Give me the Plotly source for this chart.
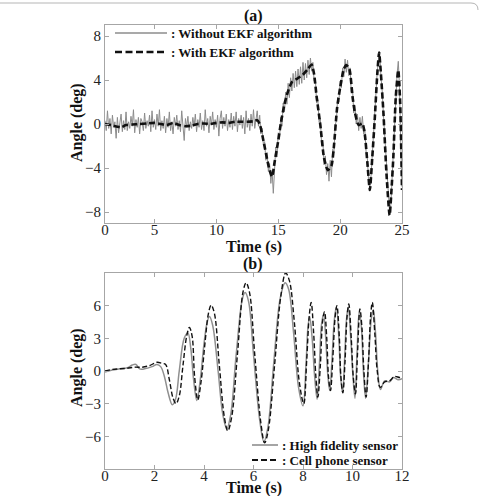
import plotly.graph_objects as go

# ---------------- Panel (a) data ----------------
raw_t0 = 1.0
raw_dt = 0.1
raw_angle = [
    0.3, -0.6, 1.2, -0.4, 0.5, -0.9, 0.8, -0.3, 0.2, -1.3,
    0.6, -0.8, 0.1, 0.9, -0.7, 0.3, -0.5, 1.1, -0.6, 0.2,
    -0.4, 0.7, -0.2, 1.3, -0.8, 0.4, -0.3, 0.6, -0.9, 0.5,
    0.2, -0.6, 1.0, -0.4, 0.3, -0.2, 0.8, -0.7, 1.2, -0.3,
    0.4, -0.5, 0.9, -0.2, 1.3, -0.6, 0.3, -0.4, 0.7, -0.8,
    0.5, -0.3, 1.1, -0.6, 0.2, -0.9, 0.6, -0.2, 0.8, -0.5,
    0.3, -0.7, 1.2, -0.4, -1.5, 0.5, -0.3, 0.7, -0.6, 0.2,
    -0.4, 0.6, -0.2, 0.9, -0.7, 0.4, -0.3, 1.0, -0.5, 0.3,
    -0.6, 1.3, -0.2, 0.5, -0.8, 0.7, -0.1, 1.1, -0.5, 0.4,
    -0.3, 0.8, -1.1, 0.5, 1.2, -0.4, 0.6, -0.2, 0.9, -0.6,
    0.4, -0.3, 1.0, -0.5, 0.7, -0.2, 1.1, -0.7, 0.5, -0.1,
    0.8, -0.4, 0.6, -0.9, 1.2, -0.3, 0.5, -0.6, 0.9, -0.2,
    1.3, -0.4, 0.7, 1.2, -0.2,
    0.8, -0.9, -0.4, -1.9, -1.6, -3.3, -2.6, -4.3, -3.6, -5.4,
    -4.2, -6.3, -4.5, -2.1, -3.0, -0.8, -1.4, 0.6, -0.2, 1.9,
    1.1, 2.9, 1.8, 3.7, 2.4, 4.2, 3.0, 4.6, 3.3, 4.8,
    3.4, 5.0, 3.6, 5.2, 3.7, 5.6, 4.0, 5.5, 4.2, 5.8,
    4.5, 6.0, 4.8, 5.6, 3.9, 4.1, 1.9, 2.2, 0.2, 0.5,
    -1.7, -1.5, -3.7, -2.9, -4.6, -3.6, -5.2, -3.3, -4.8, -2.3,
    -2.6, -0.1, 0.3, 2.4, 2.0, 3.9, 3.3, 5.1, 4.3, 5.9,
    4.7, 5.8, 4.4, 5.1, 2.9, 3.3, 1.0, 1.7, 0.0, 0.9,
    -0.6, 0.6, -0.4, 0.7, -0.9, -0.5, -2.6, -3.1, -5.2, -5.8,
    -4.7, -2.7, -1.5, 0.8, 2.2, 4.8, 5.8, 6.5, 4.3, 3.0,
    0.8, -1.0, -3.7, -5.3, -7.2, -8.1, -7.3, -4.8, -3.2, 0.0,
    2.3, 4.5, 5.7, 3.3, -1.8, -5.7,
]
raw_time = [round(raw_t0 + raw_dt * i, 2) for i in range(len(raw_angle))]

ekf_time = [1.0, 1.5, 2.0, 2.3, 2.7, 3.2, 3.8, 4.4, 5.0, 5.5, 6.0, 6.5, 7.0, 7.5,
            8.0, 8.5, 9.0, 9.5, 10.0, 10.5, 11.0, 11.5, 12.0, 12.5, 13.0, 13.3,
            13.5, 13.8, 14.1, 14.3, 14.5, 14.7, 15.0, 15.2, 15.5, 15.8, 16.1,
            16.5, 17.0, 17.4, 17.7, 17.9, 18.1, 18.4, 18.7, 19.0, 19.3, 19.5,
            19.75, 20.0, 20.3, 20.5, 20.75, 21.0, 21.2, 21.5, 21.8, 22.0, 22.2,
            22.4, 22.6, 22.8, 23.0, 23.15, 23.3, 23.5, 23.75, 24.0, 24.15, 24.3,
            24.5, 24.7, 24.85, 25.0]
ekf_angle = [0.0, -0.1, -0.25, -0.3, -0.1, -0.05, 0.0, 0.05, 0.1, 0.0, -0.1, 0.1,
             -0.1, -0.2, -0.15, 0.0, 0.05, 0.0, 0.1, 0.15, 0.1, 0.2, 0.2, 0.2,
             0.25, 0.35, 0.0, -1.5, -3.2, -4.2, -4.8, -3.5, -1.5, 0.0, 1.8, 3.0,
             3.8, 4.1, 4.5, 5.0, 5.4, 4.5, 2.5, -0.1, -3.1, -4.2, -3.8, -2.0, 1.4,
             3.3, 5.0, 5.35, 5.0, 2.5, 1.0, -0.1, 0.05, -1.0, -3.5, -6.0, -3.0,
             0.5, 4.5, 6.5, 4.5, 1.0, -4.6, -8.3, -6.0, -3.0, 2.5, 4.9, 2.0, -6.0]

a_xtick_vals = [1, 5, 10, 15, 20, 25]
a_xtick_text = ["0", "5", "10", "15", "20", "25"]
a_ytick_vals = [-8, -4, 0, 4, 8]

# ---------------- Panel (b) data ----------------
hf_time = [0.0, 0.3, 0.6, 0.9, 1.1, 1.25, 1.4, 1.6, 1.9, 2.1, 2.25, 2.4, 2.55, 2.72,
           2.85, 3.0, 3.2, 3.35, 3.47, 3.58, 3.71, 3.85, 4.0, 4.13, 4.22, 4.35,
           4.57, 4.76, 4.92, 5.08, 5.3, 5.55, 5.66, 5.8, 6.0, 6.25, 6.42, 6.58,
           6.82, 7.08, 7.28, 7.42, 7.62, 7.82, 8.0, 8.12, 8.2, 8.27, 8.37, 8.47,
           8.57, 8.66, 8.75, 8.83, 8.92, 9.0, 9.08, 9.17, 9.27, 9.35, 9.45, 9.52,
           9.6, 9.68, 9.76, 9.83, 9.93, 10.02, 10.1, 10.18, 10.27, 10.36, 10.44,
           10.53, 10.65, 10.76, 10.84, 10.93, 11.02, 11.13, 11.3, 11.5, 11.65,
           11.85, 12.0]
hf_angle = [-0.1, 0.1, 0.2, 0.3, 0.55, 0.6, 0.2, 0.2, 0.4, 0.6, 0.4, -0.5, -2.0,
            -3.1, -2.6, 0.0, 3.0, 3.5, 2.0, -0.8, -2.7, -0.8, 2.5, 4.5, 5.0, 4.2,
            0.0, -4.0, -5.3, -4.0, 1.5, 6.6, 7.2, 6.4, 1.5, -4.5, -6.5, -5.2, 0.8,
            6.7, 8.1, 7.5, 3.5, -1.5, -3.2, 0.5, 4.0, 5.0, 3.0, -0.5, -2.6, 0.5,
            4.3, 5.2, 3.0, -0.3, -1.8, 1.0, 4.8, 5.85, 3.0, -0.5, -2.0, 1.0, 4.8,
            5.85, 3.0, -0.5, -2.5, 1.5, 5.4, 4.0, 0.0, -2.5, 1.0, 4.8, 5.6, 3.5,
            0.0, -1.7, -0.9, -1.0, -0.6, -0.8, -0.7]

cp_time = [0.0, 0.3, 0.6, 0.9, 1.2, 1.5, 1.8, 2.1, 2.3, 2.45, 2.6, 2.75, 2.87, 3.0,
           3.15, 3.3, 3.41, 3.52, 3.62, 3.75, 3.88, 4.05, 4.18, 4.29, 4.42, 4.62,
           4.82, 4.96, 5.12, 5.35, 5.58, 5.7, 5.84, 6.05, 6.3, 6.45, 6.6, 6.85,
           7.1, 7.3, 7.45, 7.65, 7.85, 8.03, 8.15, 8.25, 8.33, 8.43, 8.52, 8.6,
           8.7, 8.79, 8.87, 8.96, 9.03, 9.11, 9.2, 9.3, 9.37, 9.47, 9.53, 9.61,
           9.7, 9.78, 9.85, 9.95, 10.03, 10.12, 10.2, 10.3, 10.38, 10.46, 10.55,
           10.65, 10.73, 10.8, 10.9, 11.0, 11.12, 11.3, 11.5, 11.7, 11.9, 12.0]
cp_angle = [0.0, 0.15, 0.2, 0.25, 0.35, 0.35, 0.5, 0.8, 0.7, 0.6, -0.8, -2.5, -3.0,
            -2.3, 0.5, 3.2, 4.0, 3.2, -0.5, -2.65, -1.0, 2.8, 5.3, 6.05, 5.3, 0.5,
            -4.2, -5.5, -4.2, 1.5, 7.3, 8.1, 7.2, 1.5, -4.8, -6.6, -5.4, 0.5, 6.8,
            9.0, 8.3, 4.5, -1.0, -3.0, 1.0, 5.0, 6.3, 3.5, -0.5, -2.4, 0.5, 4.5,
            5.45, 3.0, -0.5, -1.8, 1.0, 5.0, 6.0, 3.0, -0.5, -2.0, 1.0, 5.0, 6.15,
            3.0, -0.5, -2.1, 1.5, 5.7, 4.0, 0.0, -2.4, 1.0, 5.0, 6.3, 3.5, 0.0,
            -1.5, -1.0, -0.9, -0.5, -0.6, -0.6]

b_xtick_vals = [0, 2, 4, 6, 8, 10, 12]
b_ytick_vals = [-6, -3, 0, 3, 6]

# ---------------- Figure ----------------
W, H = 479, 496
ML, MR, MT, MB = 105, 77, 25, 27
PW, PH = W - ML - MR, H - MT - MB


def xp(px):
    return (px - ML) / PW


def yp(py):
    return (H - MB - py) / PH


SERIF = "Liberation Serif"
GRAY_RAW = "#8c8c8c"
AXIS_GRAY = "#a6a6a6"

fig = go.Figure()
fig.add_trace(go.Scatter(x=raw_time, y=raw_angle, mode="lines",
                         line=dict(color=GRAY_RAW, width=1),
                         name="Without EKF algorithm", showlegend=False,
                         xaxis="x", yaxis="y"))
fig.add_trace(go.Scatter(x=ekf_time, y=ekf_angle, mode="lines",
                         line=dict(color="#111111", width=2.6, dash="6px,3px",
                                   shape="spline", smoothing=0.6),
                         name="With EKF algorithm", showlegend=False,
                         xaxis="x", yaxis="y"))
fig.add_trace(go.Scatter(x=hf_time, y=hf_angle, mode="lines",
                         line=dict(color="#8f8f8f", width=1.5, shape="spline",
                                   smoothing=1.0),
                         name="High fidelity sensor", showlegend=False,
                         xaxis="x2", yaxis="y2"))
fig.add_trace(go.Scatter(x=cp_time, y=cp_angle, mode="lines",
                         line=dict(color="#111111", width=1.4, dash="5px,2.5px",
                                   shape="spline", smoothing=1.0),
                         name="Cell phone sensor", showlegend=False,
                         xaxis="x2", yaxis="y2"))

tickfont = dict(family=SERIF, size=15, color="#222222")
titlefont = dict(family=SERIF, size=16, color="#111111", weight="bold")

common = dict(showline=True, linecolor=AXIS_GRAY, linewidth=1, mirror="allticks",
              ticks="inside", ticklen=4, tickcolor=AXIS_GRAY, showgrid=False,
              zeroline=False, tickfont=tickfont)
xcommon = dict(ticklabelstandoff=-7, **common)
ycommon = dict(ticklabelstandoff=0, **common)

top_a = yp(25)
bot_a = yp(223)
top_b = yp(273)
bot_b = yp(469)

fig.update_layout(
    width=W, height=H,
    margin=dict(l=ML, r=MR, t=MT, b=MB, autoexpand=False),
    paper_bgcolor="white", plot_bgcolor="white",
    showlegend=False,
    xaxis=dict(domain=[0, 1], range=[1, 25], tickvals=a_xtick_vals,
               ticktext=a_xtick_text, anchor="y", **xcommon),
    yaxis=dict(domain=[bot_a, top_a], range=[-9, 9], tickvals=a_ytick_vals,
               anchor="x", **ycommon),
    xaxis2=dict(domain=[0, 1], range=[0, 12], tickvals=b_xtick_vals, anchor="y2",
                **xcommon),
    yaxis2=dict(domain=[bot_b, top_b], range=[-9, 9], tickvals=b_ytick_vals,
                anchor="x2", **ycommon),
)

legfont = dict(family=SERIF, size=13, color="#111111", weight="bold")


def label(text, px, py, font, xanchor="center", angle=0):
    return dict(text=text, x=xp(px), y=yp(py), xref="paper", yref="paper",
                showarrow=False, font=font, xanchor=xanchor, yanchor="middle",
                textangle=angle)


annotations = [
    label("(a)", 253, 16, titlefont),
    label("(b)", 253, 264, titlefont),
    label("Time (s)", 254, 247, titlefont),
    label("Time (s)", 254, 488, titlefont),
    label("Angle (deg)", 77, 123, titlefont, angle=-90),
    label("Angle (deg)", 77, 368, titlefont, angle=-90),
    label(": Without EKF algorithm", 169, 33, legfont, "left"),
    label(": With EKF algorithm", 169, 52, legfont, "left"),
    label(": High fidelity sensor", 280, 445, legfont, "left"),
    label(": Cell phone sensor", 280, 460, legfont, "left"),
]

shapes = [
    dict(type="line", xref="paper", yref="paper", x0=xp(115), x1=xp(167),
         y0=yp(33), y1=yp(33), line=dict(color=GRAY_RAW, width=1.5)),
    dict(type="line", xref="paper", yref="paper", x0=xp(115), x1=xp(167),
         y0=yp(52), y1=yp(52), line=dict(color="#111111", width=2.6, dash="7px,3.5px")),
    dict(type="line", xref="paper", yref="paper", x0=xp(252), x1=xp(278),
         y0=yp(445), y1=yp(445), line=dict(color="#8f8f8f", width=1.6)),
    dict(type="line", xref="paper", yref="paper", x0=xp(252), x1=xp(278),
         y0=yp(460), y1=yp(460), line=dict(color="#111111", width=2, dash="6px,3px")),
    # rounded frame edge at the top of the image
    dict(type="path", xref="paper", yref="paper",
         path=f"M {xp(0)},{yp(3)} L {xp(471)},{yp(3)} Q {xp(478)},{yp(3)} {xp(478)},{yp(10)}",
         line=dict(color="#b5b5b5", width=1)),
]

fig.update_layout(annotations=annotations, shapes=shapes)
fig.write_html("out.html")
